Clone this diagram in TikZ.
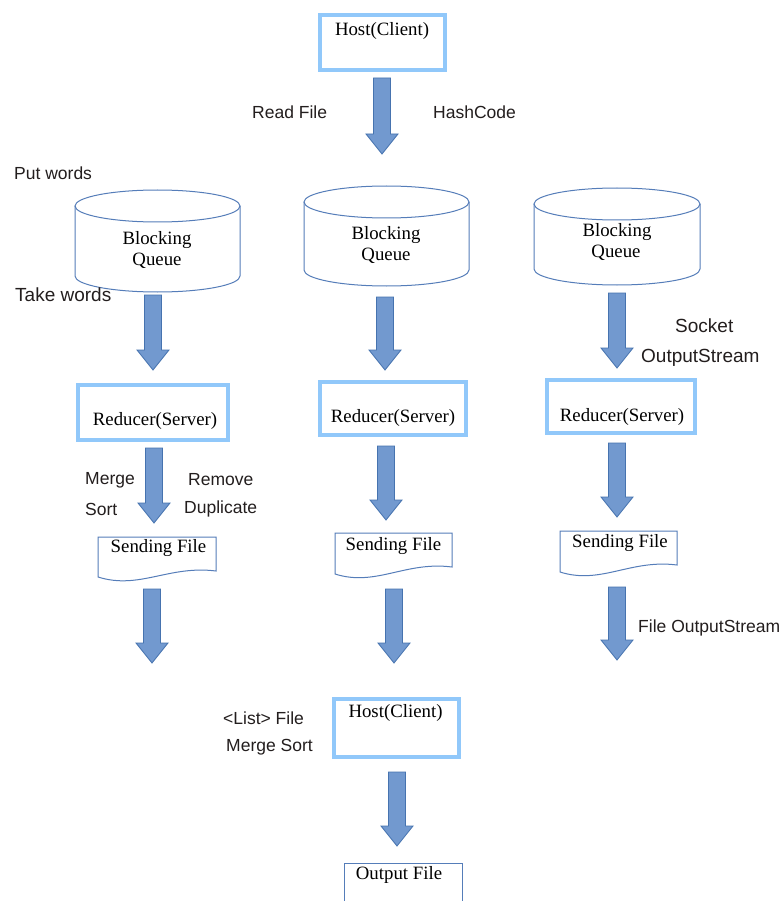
\documentclass[tikz,border=0pt]{standalone}
\usepackage{fontspec}
\setmainfont{Liberation Serif}
\newfontfamily\lsans{Liberation Sans}
\definecolor{boxblue}{RGB}{145,200,250}
\definecolor{arrfill}{RGB}{114,153,207}
\definecolor{arrdraw}{RGB}{70,115,175}
\definecolor{shapeline}{RGB}{85,125,185}
\definecolor{lblcol}{RGB}{35,30,30}
\newcommand\blkarrow[3]{%
  \draw[blk] ({#1-8.5},#2) -- ({#1+8.5},#2) -- ({#1+8.5},{#3-20}) -- ({#1+16},{#3-20}) -- (#1,#3) -- ({#1-16},{#3-20}) -- ({#1-8.5},{#3-20}) -- cycle;}
\newcommand\docshape[5]{% L R top yleft yright
  \draw[docline] (#1,#4) -- (#1,#3) -- (#2,#3) -- (#2,#5)
    .. controls ({#1+0.6*(#2-#1)},{#5-6}) and ({#1+0.35*(#2-#1)},{#4+13}) .. (#1,#4) -- cycle;}
\newcommand\cyl[5]{% L R ytopcenter ybotcenter ry
  \draw[docline] (#1,#3) -- (#1,#4) arc[start angle=180,end angle=360,x radius={(#2-#1)/2*1pt},y radius=#5pt] -- (#2,#3);
  \draw[docline] ({(#1+#2)/2},#3) ellipse[x radius={(#2-#1)/2*1pt},y radius=#5pt];}
\begin{document}
\begin{tikzpicture}[x=1pt,y=-1pt,
  hbox/.style={draw=boxblue,line width=4.5pt,inner sep=0pt},
  stxt/.style={font=\fontsize{18.8}{22}\selectfont,inner sep=0pt,text=black},
  lbl/.style={font=\lsans\fontsize{17.5}{20}\selectfont,anchor=west,inner sep=0pt,text=lblcol},
  lblbig/.style={lbl,font=\lsans\fontsize{19}{22}\selectfont},
  blk/.style={fill=arrfill,draw=arrdraw,line width=0.8pt,line join=miter},
  docline/.style={draw=shapeline,line width=1pt}]
\useasboundingbox (0,0) rectangle (783,901);
\fill[white] (0,0) rectangle (783,901);
\clip (0,0) rectangle (783,901);

% top host
\node[hbox,minimum width=125pt,minimum height=55pt] (host1) at (382.5,42.5) {};
\node[stxt] (host1t) at (382,31) {Host(Client)};
\blkarrow{382}{78}{154}
\node[lbl] (readfile) at (252,112) {Read File};
\node[lbl] (hashcode) at (433,112) {HashCode};

% cylinders
\cyl{75}{240}{206}{276}{16}
\node[stxt] (bq1a) at (157,240) {Blocking};
\node[stxt] (bq1b) at (157,261) {Queue};
\cyl{304}{469}{202}{270}{16}
\node[stxt] (bq2a) at (386,235) {Blocking};
\node[stxt] (bq2b) at (386,256) {Queue};
\cyl{534}{700}{204}{269}{16}
\node[stxt] (bq3a) at (617,232) {Blocking};
\node[stxt] (bq3b) at (616,253) {Queue};
\node[lbl] (putw) at (14,173) {Put words};
\node[lblbig] (takew) at (15,295) {Take words};

% arrows to reducers
\blkarrow{153}{295}{370}
\blkarrow{385}{297}{370}
\blkarrow{617}{293}{368}
\node[lblbig] (socket) at (675,326) {Socket};
\node[lblbig] (ostream) at (641,358) {OutputStream};

% reducers
\node[hbox,minimum width=150pt,minimum height=55pt] (red1) at (153,412.5) {};
\node[stxt] (red1t) at (155,421) {Reducer(Server)};
\node[hbox,minimum width=146pt,minimum height=53pt] (red2) at (393,408.5) {};
\node[stxt] (red2t) at (393,418) {Reducer(Server)};
\node[hbox,minimum width=148pt,minimum height=53pt] (red3) at (621,406.5) {};
\node[stxt] (red3t) at (622,417) {Reducer(Server)};

% arrows to sending files
\blkarrow{154}{448}{523}
\blkarrow{386}{446}{520}
\blkarrow{617}{443}{517}
\node[lbl] (merge) at (85,480) {Merge};
\node[lbl] (sort) at (85,509) {Sort};
\node[lbl] (remove) at (188,480) {Remove};
\node[lbl] (dupl) at (184,509) {Duplicate};

% sending files
\docshape{98}{216}{537}{577}{571}
\node[stxt] (sf1) at (158.5,548) {Sending File};
\docshape{335}{452}{533}{574}{567}
\node[stxt] (sf2) at (393.5,546) {Sending File};
\docshape{560}{677}{531}{572}{565}
\node[stxt] (sf3) at (620,543) {Sending File};

% lower arrows
\blkarrow{152}{589}{663}
\blkarrow{394}{589}{663}
\blkarrow{617}{587}{660}
\node[lbl] (fostream) at (638,628) {File OutputStream};

% bottom host
\node[hbox,minimum width=125pt,minimum height=58pt] (host2) at (396.5,728) {};
\node[stxt] (host2t) at (395.5,713) {Host(Client)};
\node[lbl] (listfile) at (223,718) {<List> File};
\node[lbl] (msort) at (226,747) {Merge Sort};
\blkarrow{397}{772}{846}

% output file
\draw[docline] (344,910) -- (344,863) -- (462,863) -- (462,910);
\node[stxt] (outf) at (399,875) {Output File};
\end{tikzpicture}
\end{document}
